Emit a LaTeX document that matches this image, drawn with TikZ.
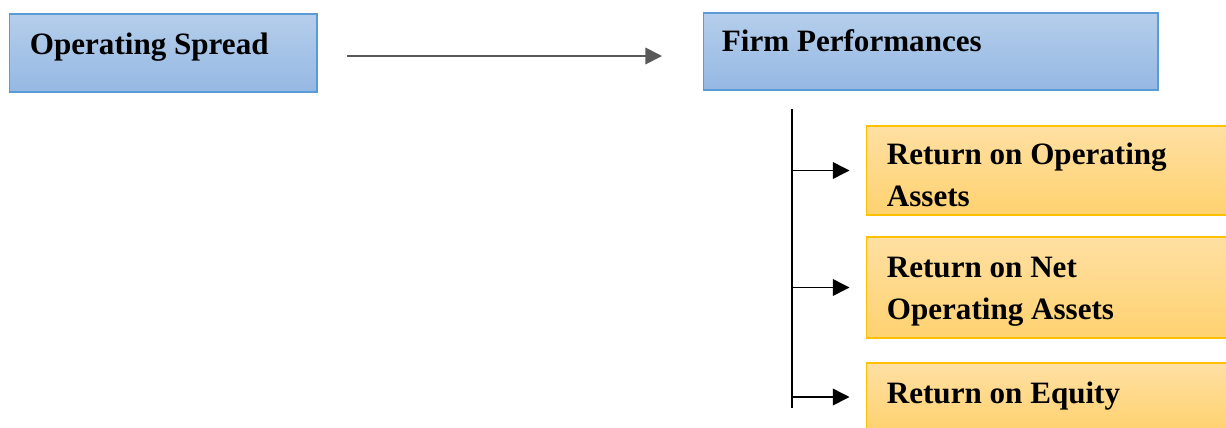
\documentclass[tikz,border=0pt]{standalone}
\usepackage{fontspec}
\setmainfont{Liberation Serif}
\usetikzlibrary{arrows.meta,calc}

\definecolor{blueedge}{HTML}{5B9BD5}
\definecolor{bluetop}{HTML}{B5CEEB}
\definecolor{bluebot}{HTML}{95B8E3}
\definecolor{goldedge}{HTML}{FFC000}
\definecolor{goldtop}{HTML}{FFE0A3}
\definecolor{goldbot}{HTML}{FFD270}

\begin{document}
\begin{tikzpicture}[x=0.02cm, y=-0.02cm,
  bluebox/.style={draw=blueedge, line width=0.6pt, top color=bluetop, bottom color=bluebot, inner sep=0pt},
  goldbox/.style={draw=goldedge, line width=0.6pt, top color=goldtop, bottom color=goldbot, inner sep=0pt, minimum width=7.48cm},
  boxtext/.style={anchor=base west, inner sep=0pt, align=left, font=\fontsize{17.7}{23.9}\selectfont\bfseries},
  link/.style={line width=1pt, -{Triangle[length=9.5pt, width=9.5pt]}}]

\useasboundingbox (0,0) rectangle (1226,427);
\clip (0,0) rectangle (1226,427);

% top row
\node[bluebox, minimum width=6.16cm, minimum height=1.56cm] (spread) at (163,53) {};
\node[boxtext] (spreadtext) at ($(spread.north west)+(21,41)$) {Operating Spread};

\node[bluebox, minimum width=9.1cm, minimum height=1.54cm] (firm) at (930.5,51.5) {};
\node[boxtext] (firmtext) at ($(firm.north west)+(19,39)$) {Firm Performances};

\coordinate (spreadout) at (347,56);
\coordinate (firmin) at (662,56);
\draw[link, draw=black!65] (spreadout) -- (firmin);

% measures of performance (base = last line)
\node[goldbox, minimum height=1.78cm] (roa) at (1053,170.5) {};
\node[boxtext] (roatext) at ($(roa.north west)+(21,81)$) {Return on Operating\\Assets};

\node[goldbox, minimum height=2.02cm] (rnoa) at (1053,287.5) {};
\node[boxtext] (rnoatext) at ($(rnoa.north west)+(21,83)$) {Return on Net\\Operating Assets};

\node[goldbox, minimum height=1.36cm] (roe) at (1053,397) {};
\node[boxtext] (roetext) at ($(roe.north west)+(21,41)$) {Return on Equity};

\coordinate (trunktop) at (792,109);
\coordinate (trunkbot) at (792,408);
\draw[line width=1.1pt] (trunktop) -- (trunkbot);

\foreach \m in {roa, rnoa, roe}
  \draw[link, line width=0.8pt, shorten >=0.32cm] (trunktop |- \m.west) -- (\m.west);

\end{tikzpicture}
\end{document}
